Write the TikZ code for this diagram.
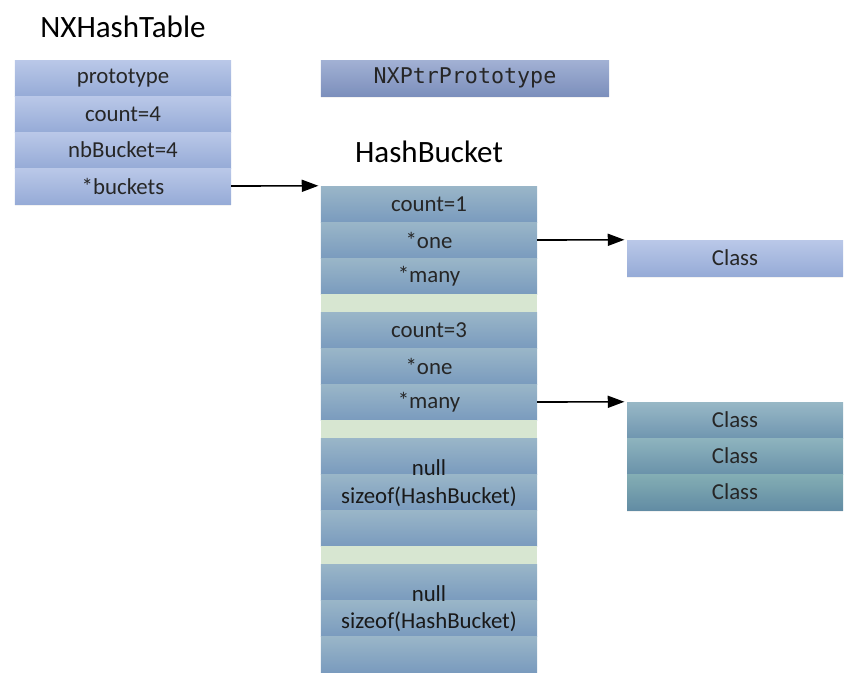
\documentclass[tikz,border=0pt]{standalone}
\usepackage{fontspec}
\setmainfont{Carlito}
\setmonofont{DejaVu Sans Mono}
\usetikzlibrary{arrows.meta,shadows}
\definecolor{tabtop}{RGB}{186,200,232}
\definecolor{tabbot}{RGB}{150,171,215}
\definecolor{protop}{RGB}{162,177,212}
\definecolor{probot}{RGB}{124,143,188}
\definecolor{bktop}{RGB}{154,182,200}
\definecolor{bkbot}{RGB}{122,155,190}
\definecolor{gapgreen}{RGB}{215,230,209}
\definecolor{clsAtop}{RGB}{152,184,198}
\definecolor{clsAbot}{RGB}{112,150,176}
\definecolor{clsBtop}{RGB}{142,180,190}
\definecolor{clsBbot}{RGB}{106,146,170}
\definecolor{clsCtop}{RGB}{132,174,180}
\definecolor{clsCbot}{RGB}{98,140,164}
\begin{document}
\begin{tikzpicture}[x=0.03cm, y=-0.03cm,
  field/.style={minimum width=6.48cm, minimum height=1.08cm, inner sep=0pt,
    text=black!85, font=\fontsize{19.5}{23}\selectfont},
  tabrow/.style={field, top color=tabtop, bottom color=tabbot,
    drop shadow={shadow xshift=0pt, shadow yshift=-0.05cm, fill=black!10}},
  bkrow/.style={field, top color=bktop, bottom color=bkbot},
  gap/.style={minimum width=6.48cm, minimum height=0.54cm, inner sep=0pt, fill=gapgreen},
  title/.style={inner sep=0pt, font=\fontsize{26.5}{30}\selectfont},
  label/.style={inner sep=0pt, text=black!90, font=\fontsize{19.5}{23}\selectfont},
  ptr/.style={line width=1.4pt, -{Triangle[length=0.5cm, width=0.36cm]}, shorten >=2pt}]
  \useasboundingbox (0,0) rectangle (860,686);
  % NXHashTable
  \node[title] (tbtitle) at (123,27) {NXHashTable};
  \foreach \t [count=\i] in {prototype, count=4, nbBucket=4, *buckets}
    \node[tabrow] (tb\i) at (123,42+36*\i) {\t};
  % prototype
  \node[field, minimum width=8.64cm, top color=protop, bottom color=probot,
    font=\ttfamily\fontsize{18.5}{22}\selectfont,
    drop shadow={shadow xshift=0pt, shadow yshift=-0.05cm, fill=black!10}] (proto) at (465,78) {NXPtrPrototype};
  % HashBucket
  \node[title] (bktitle) at (429,152) {HashBucket};
  \foreach \y/\t [count=\i] in {204/count=1, 240/*one, 276/*many, 330/count=3, 366/*one, 402/*many,
      456/, 492/, 528/, 582/, 618/, 654/}
    \node[bkrow] (bk\i) at (429,\y) {\t};
  \foreach \y [count=\i] in {303,429,555}
    \node[gap] (gap\i) at (429,\y) {};
  \node[label] (null1) at (429,468) {null};
  \node[label] (size1) at (429,497) {sizeof(HashBucket)};
  \node[label] (null2) at (429,594) {null};
  \node[label] (size2) at (429,622) {sizeof(HashBucket)};
  % Class
  \node[tabrow] (cls) at (735,258) {Class};
  \node[field, top color=clsAtop, bottom color=clsAbot] (clsA) at (735,420) {Class};
  \node[field, top color=clsBtop, bottom color=clsBbot] (clsB) at (735,456) {Class};
  \node[field, top color=clsCtop, bottom color=clsCbot,
    drop shadow={shadow xshift=0pt, shadow yshift=-0.05cm, fill=black!10}] (clsC) at (735,492) {Class};
  % pointers
  \draw[ptr] (tb4.east) -- (bk1.north west);
  \draw[ptr] (bk2.east) -- (cls.north west);
  \draw[ptr] (bk6.east) -- (clsA.north west);
\end{tikzpicture}
\end{document}
